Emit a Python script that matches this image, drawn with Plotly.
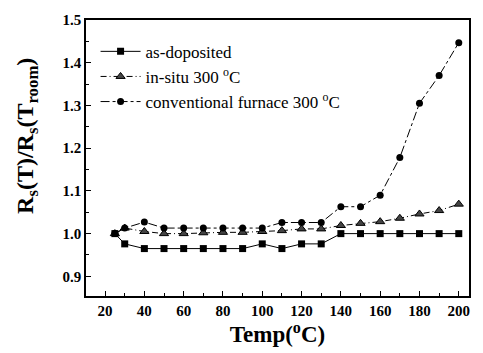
import plotly.graph_objects as go

temps = [25, 30, 40, 50, 60, 70, 80, 90, 100, 110, 120, 130, 140, 150, 160, 170, 180, 190, 200]
as_deposited = [1.0, 0.976, 0.965, 0.965, 0.965, 0.965, 0.965, 0.965, 0.976, 0.965, 0.976, 0.976,
                1.0, 1.0, 1.0, 1.0, 1.0, 1.0, 1.0]
in_situ = [1.0, 1.013, 1.005, 1.0, 1.0, 1.002, 1.003, 1.003, 1.005, 1.007, 1.011, 1.011,
           1.019, 1.024, 1.028, 1.036, 1.046, 1.054, 1.069]
furnace = [1.0, 1.013, 1.027, 1.013, 1.013, 1.013, 1.013, 1.013, 1.013, 1.026, 1.026, 1.026,
           1.063, 1.063, 1.09, 1.178, 1.305, 1.37, 1.447]
names = ["as-doposited", "in-situ 300 <sup>o</sup>C", "conventional furnace 300 <sup>o</sup>C"]
y_title = "R<sub>s</sub>(T)/R<sub>s</sub>(T<sub>room</sub>)"

font = "Liberation Serif, Times New Roman, serif"
fig = go.Figure()
fig.add_trace(go.Scatter(x=temps, y=as_deposited, name=names[0], mode="lines+markers",
                         line=dict(color="black", width=1, dash="solid"),
                         marker=dict(symbol="square", size=7, color="black")))
fig.add_trace(go.Scatter(x=temps, y=in_situ, name=names[1], mode="lines+markers",
                         line=dict(color="black", width=1, dash="6px,3px,1px,3px"),
                         marker=dict(symbol="triangle-up", size=8, color="#444",
                                     line=dict(color="black", width=1))))
fig.add_trace(go.Scatter(x=temps, y=furnace, name=names[2], mode="lines+markers",
                         line=dict(color="black", width=1, dash="dashdot"),
                         marker=dict(symbol="circle", size=7, color="black")))

axis_common = dict(showgrid=False, zeroline=False, showline=True, linecolor="black",
                   linewidth=1.5, mirror=True, ticks="inside", ticklen=5, tickwidth=1,
                   tickcolor="black",
                   tickfont=dict(family=font, size=15, color="black", weight="bold"))
fig.update_xaxes(range=[10.3, 205.2], tickvals=list(range(20, 201, 20)),
                 minor=dict(ticks="inside", ticklen=3, dtick=10, tick0=0, tickcolor="black"),
                 title=dict(text="Temp(<sup>o</sup>C)", standoff=6,
                            font=dict(family=font, size=23, color="black", weight="bold")),
                 **axis_common)
fig.update_yaxes(range=[0.854, 1.5], tickvals=[0.9, 1.0, 1.1, 1.2, 1.3, 1.4, 1.5],
                 tickformat=".1f",
                 minor=dict(ticks="inside", ticklen=3, dtick=0.05, tick0=0, tickcolor="black"),
                 **axis_common)
fig.add_annotation(text=y_title, textangle=-90, xref="paper", yref="paper",
                   x=-0.154, y=0.58, xanchor="center", yanchor="middle", showarrow=False,
                   font=dict(family=font, size=24, color="black", weight="bold"))
fig.update_layout(width=483, height=353, margin=dict(l=86, r=13, t=18, b=56),
                  plot_bgcolor="white", paper_bgcolor="white",
                  font=dict(family=font, color="black"),
                  legend=dict(x=0.025, y=0.95, xanchor="left", yanchor="top",
                              bgcolor="rgba(0,0,0,0)", itemwidth=40,
                              font=dict(family=font, size=17, color="black"),
                              tracegroupgap=1))
fig.write_html("out.html")
